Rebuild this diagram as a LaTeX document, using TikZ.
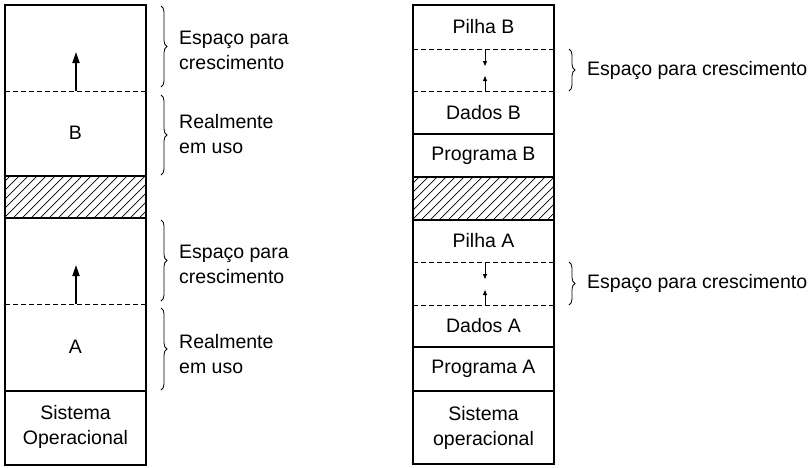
\documentclass[tikz,border=0pt]{standalone}
\usepackage{fontspec}
\setmainfont{Liberation Sans}
\usetikzlibrary{arrows.meta,decorations.pathreplacing}

\begin{document}
\begin{tikzpicture}[
    x=1pt, y=-1pt,
    every node/.style={font=\fontsize{19.5}{25}\selectfont, inner sep=0pt},
    memline/.style={line width=1.4pt},
    gapline/.style={line width=0.8pt, dash pattern=on 5pt off 3pt},
    hatch/.style={line width=0.7pt},
    growarrow/.style={line width=1.8pt, -{Triangle[length=11pt, width=7pt]}},
    smallarrow/.style={line width=0.8pt, -{Triangle[length=5pt, width=4pt]}},
    brace/.style={decorate, decoration={brace, amplitude=6pt}, line width=0.8pt},
    bracetext/.style={anchor=west, align=left},
  ]
    \useasboundingbox (0,0) rectangle (810,467);
    % left column: one program growing
    \draw[memline] (5,5) rectangle (146,465);
    \foreach \y in {176,218,391} { \draw[memline] (5,\y) -- (146,\y); }
    \foreach \y in {91,304} { \draw[gapline] (5,\y) -- (146,\y); }
    \begin{scope}
      \clip (5,176) rectangle (146,218);
      \foreach \i in {-50,-41,...,150} { \draw[hatch] (\i,218) -- ++(45,-45); }
    \end{scope}
    \node (regB) at (75.5,133) {B};
    \node (regA) at (75.5,347) {A};
    \node[align=center] (soL) at (75.5,427) {Sistema\\Operacional};
    \coordinate (growB0) at (76,91);  \coordinate (growB1) at (76,52);
    \coordinate (growA0) at (76,304); \coordinate (growA1) at (76,265);
    \draw[growarrow] (growB0) -- (growB1);
    \draw[growarrow] (growA0) -- (growA1);
    \coordinate (bB0) at (161,6);   \coordinate (bB1) at (161,87);
    \coordinate (bB2) at (161,95);  \coordinate (bB3) at (161,175);
    \coordinate (bA0) at (161,220); \coordinate (bA1) at (161,301);
    \coordinate (bA2) at (161,308); \coordinate (bA3) at (161,390);
    \draw[brace] (bB0) -- (bB1);
    \draw[brace] (bB2) -- (bB3);
    \draw[brace] (bA0) -- (bA1);
    \draw[brace] (bA2) -- (bA3);
    \node[bracetext] (espB) at (179,50) {Espaço para\\crescimento};
    \node[bracetext] (usoB) at (179,134) {Realmente\\em uso};
    \node[bracetext] (espA) at (179,264) {Espaço para\\crescimento};
    \node[bracetext] (usoA) at (179,354) {Realmente\\em uso};
    % right column: stack and data segments
    \draw[memline] (413,5) rectangle (554,464);
    \foreach \y in {134,177,220,347,391} { \draw[memline] (413,\y) -- (554,\y); }
    \foreach \y in {49,91,262,305} { \draw[gapline] (413,\y) -- (554,\y); }
    \begin{scope}
      \clip (413,177) rectangle (554,220);
      \foreach \i in {358,367,...,560} { \draw[hatch] (\i,220) -- ++(45,-45); }
    \end{scope}
    \foreach \y/\txt/\nm in {27/Pilha B/pilhaB, 112.5/Dados B/dadosB, 155.5/Programa B/progB,
        241/Pilha A/pilhaA, 326/Dados A/dadosA, 369/Programa A/progA} {
      \node (\nm) at (483.5,\y) {\txt};
    }
    \node[align=center] (soR) at (483.5,427.5) {Sistema\\operacional};
    \coordinate (pbTop) at (485,49);  \coordinate (pbEnd) at (485,66);
    \coordinate (dbTop) at (485,91);  \coordinate (dbEnd) at (485,76);
    \coordinate (paTop) at (485,262); \coordinate (paEnd) at (485,279);
    \coordinate (daTop) at (485,305); \coordinate (daEnd) at (485,290);
    \draw[smallarrow] (pbTop) -- (pbEnd);
    \draw[smallarrow] (dbTop) -- (dbEnd);
    \draw[smallarrow] (paTop) -- (paEnd);
    \draw[smallarrow] (daTop) -- (daEnd);
    \coordinate (gB0) at (569,49);  \coordinate (gB1) at (569,91);
    \coordinate (gA0) at (569,262); \coordinate (gA1) at (569,305);
    \draw[brace] (gB0) -- (gB1);
    \draw[brace] (gA0) -- (gA1);
    \node[bracetext] (espR1) at (587,70) {Espaço para crescimento};
    \node[bracetext] (espR2) at (587,283.5) {Espaço para crescimento};
  \end{tikzpicture}
\end{document}
